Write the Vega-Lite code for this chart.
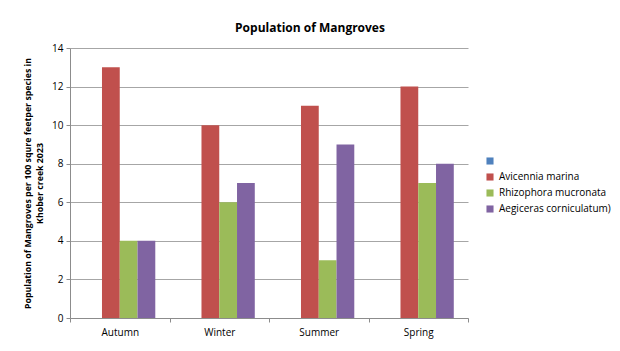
{
  "$schema": "https://vega.github.io/schema/vega-lite/v6.json",
  "autosize": "none",
  "width": 398,
  "height": 270,
  "padding": {"left": 70, "top": 48, "right": 152, "bottom": 33},
  "background": "white",
  "config": {
    "font": "Open Sans",
    "view": {"stroke": null}
  },
  "title": {
    "text": "Population of Mangroves",
    "fontSize": 12,
    "fontWeight": "bold",
    "color": "#000000",
    "anchor": "middle",
    "dx": 41,
    "offset": 8
  },
  "data": {
    "values": [
      {"season": "Autumn", "series": " ", "value": 0},
      {"season": "Autumn", "series": "Avicennia marina", "value": 13},
      {"season": "Autumn", "series": "Rhizophora mucronata", "value": 4},
      {"season": "Autumn", "series": "Aegiceras corniculatum)", "value": 4},
      {"season": "Winter", "series": " ", "value": 0},
      {"season": "Winter", "series": "Avicennia marina", "value": 10},
      {"season": "Winter", "series": "Rhizophora mucronata", "value": 6},
      {"season": "Winter", "series": "Aegiceras corniculatum)", "value": 7},
      {"season": "Summer", "series": " ", "value": 0},
      {"season": "Summer", "series": "Avicennia marina", "value": 11},
      {"season": "Summer", "series": "Rhizophora mucronata", "value": 3},
      {"season": "Summer", "series": "Aegiceras corniculatum)", "value": 9},
      {"season": "Spring", "series": " ", "value": 0},
      {"season": "Spring", "series": "Avicennia marina", "value": 12},
      {"season": "Spring", "series": "Rhizophora mucronata", "value": 7},
      {"season": "Spring", "series": "Aegiceras corniculatum)", "value": 8}
    ]
  },
  "mark": {"type": "bar"},
  "encoding": {
    "x": {
      "field": "season",
      "type": "nominal",
      "sort": ["Autumn", "Winter", "Summer", "Spring"],
      "scale": {"paddingInner": 0, "paddingOuter": 0},
      "axis": {
        "title": null,
        "labelAngle": 0,
        "tickBand": "extent",
        "domainColor": "#8C8C8C",
        "tickColor": "#8C8C8C",
        "tickSize": 4,
        "labelFontSize": 10,
        "labelColor": "#000000",
        "labelPadding": 5
      }
    },
    "xOffset": {
      "field": "series",
      "type": "nominal",
      "sort": [" ", "Avicennia marina", "Rhizophora mucronata", "Aegiceras corniculatum)"],
      "scale": {"paddingInner": 0, "paddingOuter": 0.8}
    },
    "y": {
      "field": "value",
      "type": "quantitative",
      "scale": {"domain": [0, 14], "nice": false},
      "axis": {
        "values": [0, 2, 4, 6, 8, 10, 12, 14],
        "title": ["Population of Mangroves per 100 squre  feetper species in", "Khober creek 2023"],
        "titleFontSize": 8.8,
        "titleFontWeight": "bold",
        "titleColor": "#000000",
        "titlePadding": 7,
        "titleLineHeight": 12,
        "gridColor": "#A6A6A6",
        "domainColor": "#8C8C8C",
        "tickColor": "#8C8C8C",
        "tickSize": 4,
        "labelFontSize": 10,
        "labelColor": "#000000",
        "labelPadding": 3
      }
    },
    "color": {
      "field": "series",
      "type": "nominal",
      "sort": [" ", "Avicennia marina", "Rhizophora mucronata", "Aegiceras corniculatum)"],
      "scale": {
        "domain": [" ", "Avicennia marina", "Rhizophora mucronata", "Aegiceras corniculatum)"],
        "range": ["#4F81BD", "#C0504D", "#9BBB59", "#8064A2"]
      },
      "legend": {
        "title": null,
        "orient": "none",
        "legendX": 415,
        "legendY": 108,
        "symbolType": "square",
        "symbolSize": 50,
        "symbolStrokeWidth": 0,
        "labelFontSize": 10,
        "labelColor": "#000000",
        "rowPadding": 6
      }
    }
  }
}
